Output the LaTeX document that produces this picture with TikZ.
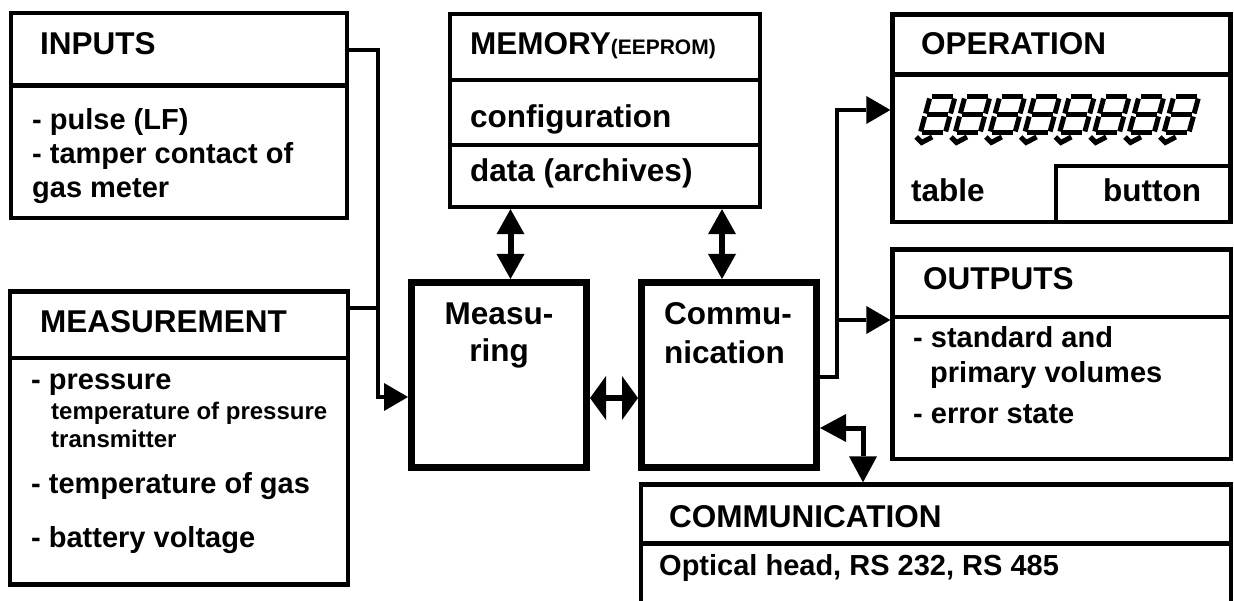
\documentclass[tikz,border=0pt]{standalone}
\usepackage{fontspec}
\setmainfont{Liberation Sans}
\usetikzlibrary{arrows.meta}
\begin{document}
\begin{tikzpicture}[x=1pt,y=-1pt,
  box/.style={draw,rectangle,line width=4.3pt,inner sep=0pt},
  bigbox/.style={draw,rectangle,line width=7pt,inner sep=0pt},
  sepline/.style={line width=4.3pt},
  ttl/.style={anchor=base west,inner sep=0pt,font=\fontsize{31.5}{36}\selectfont\bfseries},
  ttlc/.style={anchor=base,inner sep=0pt,font=\fontsize{31.5}{36}\selectfont\bfseries},
  txt/.style={anchor=base west,inner sep=0pt,font=\fontsize{29}{34}\selectfont\bfseries},
  sml/.style={anchor=base west,inner sep=0pt,font=\fontsize{24}{28}\selectfont\bfseries},
  conn/.style={line width=4pt},
  arr/.style={line width=4pt,-{Triangle[length=24pt,width=28pt,line width=0pt]}},
  dblv/.style={line width=6pt,{Triangle[length=25pt,width=28pt,line width=0pt]}-{Triangle[length=25pt,width=28pt,line width=0pt]}},
  dblh/.style={line width=6pt,{Triangle[length=16pt,width=44pt,line width=0pt]}-{Triangle[length=16pt,width=44pt,line width=0pt]}},
  dblb/.style={line width=5pt,{Triangle[length=26pt,width=28pt,line width=0pt]}-{Triangle[length=26pt,width=28pt,line width=0pt]}},
  seg/.style={line width=5pt}
]
\path[use as bounding box] (0,0) rectangle (1234,601);
\clip (0,0) rectangle (1234,601);

% ---------- boxes ----------
\node[box,minimum width=336pt,minimum height=205pt] (inp) at (179,115.5) {};
\draw[sepline] (inp.west |- 0,85.5) -- (inp.east |- 0,85.5);

\node[box,minimum width=338pt,minimum height=293pt] (mea) at (179,438) {};
\draw[sepline] (mea.west |- 0,358) -- (mea.east |- 0,358);

\node[box,minimum width=310pt,minimum height=193pt] (mem) at (605,110.5) {};
\draw[sepline] (mem.west |- 0,80) -- (mem.east |- 0,80);
\draw[sepline] (mem.west |- 0,145) -- (mem.east |- 0,145);

\node[bigbox,minimum width=175pt,minimum height=185pt] (msr) at (499,375) {};
\node[bigbox,minimum width=175pt,minimum height=185pt] (com) at (729,375) {};

\node[box,minimum width=338pt,minimum height=207.5pt] (op) at (1061.5,118.25) {};
\draw[sepline] (op.west |- 0,74.5) -- (op.east |- 0,74.5);
\coordinate (btn) at (1056,166);
\draw[sepline] (op.south -| btn) -- (btn) -- (op.east |- btn);

\node[box,minimum width=338.5pt,minimum height=209.5pt] (out) at (1061.75,354.25) {};
\draw[sepline] (out.west |- 0,317) -- (out.east |- 0,317);

\node[box,minimum width=590pt,minimum height=155.5pt] (bcom) at (936,562.25) {};
\draw[sepline] (bcom.west |- 0,543.5) -- (bcom.east |- 0,543.5);

% ---------- texts ----------
\node[ttl] (tInp) at (40,55) {INPUTS};
\node[txt] (i1) at (32,130) {- pulse (LF)};
\node[txt] (i2) at (32,164) {- tamper contact of};
\node[txt] (i3) at (32,198) {gas meter};

\node[ttl] (tMea) at (40,333) {MEASUREMENT};
\node[txt] (m1) at (31,390) {- pressure};
\node[sml] (m2) at (51,419) {temperature of pressure};
\node[sml] (m3) at (51,447) {transmitter};
\node[txt] (m4) at (31,493) {- temperature of gas};
\node[txt] (m5) at (31,547) {- battery voltage};

\node[ttl] (tMem) at (470,55) {MEMORY{\fontsize{21}{24}\selectfont(EEPROM)}};
\node[ttl] (me1) at (470,128) {configuration};
\node[ttl] (me2) at (470,182) {data (archives)};

\node[ttlc] (ms1) at (499,325) {Measu-};
\node[ttlc] (ms2) at (499,362) {ring};
\node[ttl] (c1) at (664,325) {Commu-};
\node[ttl] (c2) at (664,363) {nication};

\node[ttl] (tOp) at (921,55) {OPERATION};
\node[ttl] (o1) at (911,202) {table};
\node[ttl] (o2) at (1103,202) {button};

\node[ttl] (tOut) at (923,290) {OUTPUTS};
\node[txt] (u1) at (913,348) {- standard and};
\node[txt] (u2) at (930,382) {primary volumes};
\node[txt] (u3) at (913,423) {- error state};

\node[ttl] (tCom) at (669,527) {COMMUNICATION};
\node[txt] (b1) at (659,575) {Optical head, RS 232, RS 485};

% ---------- seven-segment digits ----------
\foreach \i in {0,...,7}{
  \begin{scope}[shift={({930+\i*34.8},97)},xslant=0.27]
    \draw[seg] (2,0) -- (23,0);
    \draw[seg] (0,1.5) -- (0,16.5);
    \draw[seg] (25,1.5) -- (25,16.5);
    \draw[seg] (2,18) -- (23,18);
    \draw[seg] (0,19.5) -- (0,34.5);
    \draw[seg] (25,19.5) -- (25,34.5);
    \draw[seg] (2,36) -- (23,36);
    \draw[seg] (-3,40) -- (4,45.5) -- (13,40);
  \end{scope}
}

% ---------- connectors ----------
\coordinate (j1) at (378,50);
\coordinate (j2) at (378,397);
\coordinate (j3) at (378,308);
\draw[arr] (inp.east |- j1) -- (j1) -- (j2) -- (msr.west |- j2);
\draw[conn] (mea.east |- j3) -- (j3);

\coordinate (v1) at (510.5,0);
\coordinate (v2) at (722,0);
\draw[dblv] (mem.south -| v1) -- (msr.north -| v1);
\draw[dblv] (mem.south -| v2) -- (com.north -| v2);

\coordinate (h1) at (0,398);
\draw[dblh] (msr.east |- h1) -- (com.west |- h1);

\coordinate (k1) at (837,377);
\coordinate (k2) at (837,110);
\coordinate (k3) at (837,320);
\draw[arr] (com.east |- k1) -- (k1) -- (k2) -- (op.west |- k2);
\draw[arr] (k3) -- (out.west |- k3);

\coordinate (n1) at (863,428);
\draw[dblb] (com.east |- n1) -- (n1) -- (bcom.north -| n1);
\end{tikzpicture}
\end{document}
